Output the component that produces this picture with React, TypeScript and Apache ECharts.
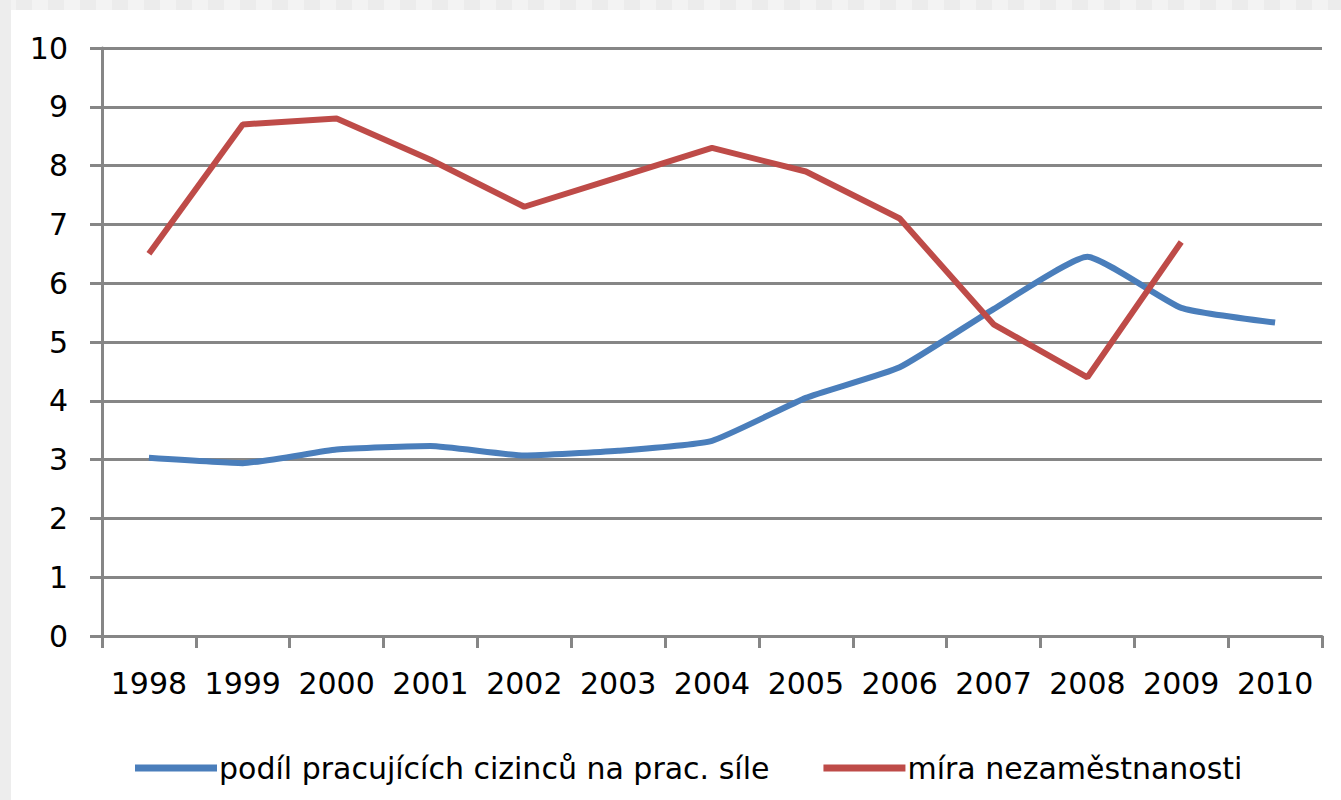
import React, { useEffect, useRef } from "react";
import * as echarts from "echarts";

const years = ["1998", "1999", "2000", "2001", "2002", "2003", "2004", "2005", "2006", "2007", "2008", "2009", "2010"];
const foreignShare = [3.03, 2.94, 3.17, 3.23, 3.07, 3.15, 3.32, 4.05, 4.57, 5.56, 6.45, 5.58, 5.33];
const unemployment = [6.5, 8.7, 8.8, 8.1, 7.3, 7.8, 8.3, 7.9, 7.1, 5.3, 4.4, 6.7];
const seriesNames = ["podíl pracujících cizinců na prac. síle", "míra nezaměstnanosti"];
const yTicks = { min: 0, max: 10, interval: 1 };

const FONT = "'DejaVu Sans', Verdana, sans-serif";
const GRID_COLOR = "#868686";

export default function App() {
  const ref = useRef<HTMLDivElement>(null);
  useEffect(() => {
    if (!ref.current) return;
    const chart = echarts.init(ref.current, null, { renderer: "svg" });
    // decorative checkered strip at top and plain strip at left
    const deco: any[] = [];
    for (let i = 0; i * 16 < 1341; i++) {
      deco.push({
        type: "rect",
        shape: { x: i * 16, y: 0, width: 16, height: 10 },
        style: { fill: i % 2 === 0 ? "#f3f3f3" : "#ececec" },
        silent: true,
        z: -10,
      });
    }
    deco.push({
      type: "rect",
      shape: { x: 0, y: 0, width: 11, height: 800 },
      style: { fill: "#ededed" },
      silent: true,
      z: -10,
    });
    chart.setOption({
      animation: false,
      backgroundColor: "#ffffff",
      graphic: deco,
      grid: { left: 102, right: 19, top: 48, bottom: 164, containLabel: false },
      legend: {
        left: 130,
        top: 748,
        itemWidth: 82,
        itemHeight: 7,
        itemGap: 54,
        icon: "rect",
        textStyle: { fontFamily: FONT, fontSize: 30, color: "#000000", padding: [0, 0, 0, -3] },
        data: seriesNames,
      },
      xAxis: {
        type: "category",
        data: years,
        boundaryGap: true,
        axisLine: { show: true, lineStyle: { color: GRID_COLOR, width: 3 } },
        axisTick: { show: true, interval: 0, length: 12, lineStyle: { color: GRID_COLOR, width: 3 } },
        axisLabel: { interval: 0, fontFamily: FONT, fontSize: 30, color: "#000000", margin: 32 },
        splitLine: { show: false },
      },
      yAxis: {
        type: "value",
        min: yTicks.min,
        max: yTicks.max,
        interval: yTicks.interval,
        axisLine: { show: true, lineStyle: { color: GRID_COLOR, width: 3 } },
        axisTick: { show: true, length: 12, lineStyle: { color: GRID_COLOR, width: 3 } },
        axisLabel: { fontFamily: FONT, fontSize: 30, color: "#000000", margin: 34 },
        splitLine: { show: true, lineStyle: { color: GRID_COLOR, width: 3 } },
      },
      series: [
        {
          name: seriesNames[0],
          type: "line",
          data: foreignShare,
          symbol: "none",
          smooth: 0.15,
          color: "#4A7EBB",
          lineStyle: { width: 6, color: "#4A7EBB" },
        },
        {
          name: seriesNames[1],
          type: "line",
          data: unemployment,
          symbol: "none",
          color: "#BE4B48",
          lineStyle: { width: 6, color: "#BE4B48" },
        },
      ],
    });
    return () => chart.dispose();
  }, []);
  return (
    <div
      ref={ref}
      style={{ position: "absolute", left: 0, top: 0, width: 1341, height: 800 }}
    />
  );
}
